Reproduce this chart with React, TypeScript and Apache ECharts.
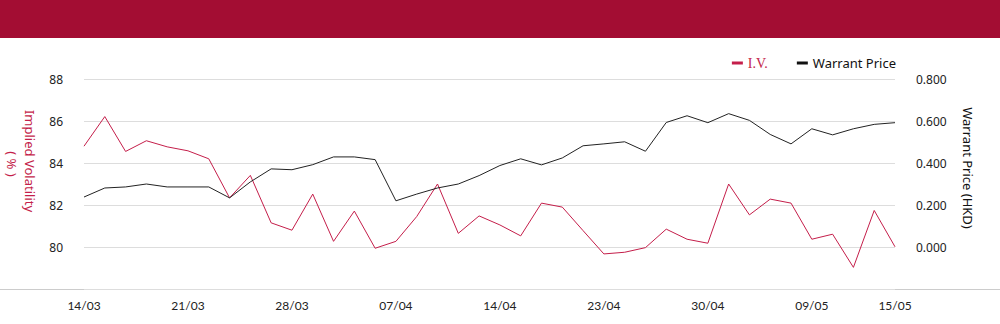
import React, { useEffect, useRef } from "react";
import * as echarts from "echarts";

const dates = [
  "14/03", "17/03", "18/03", "19/03", "20/03", "21/03", "24/03", "25/03", "26/03", "27/03",
  "28/03", "31/03", "01/04", "02/04", "03/04", "07/04", "08/04", "09/04", "10/04", "11/04",
  "14/04", "15/04", "16/04", "17/04", "22/04", "23/04", "24/04", "25/04", "28/04", "29/04",
  "30/04", "02/05", "06/05", "07/05", "08/05", "09/05", "12/05", "13/05", "14/05", "15/05",
];

const ivValues = [
  84.8, 86.21, 84.55, 85.06, 84.77, 84.58, 84.2, 82.34, 83.41, 81.15,
  80.8, 82.52, 80.27, 81.71, 79.94, 80.27, 81.45, 83.0, 80.65, 81.48,
  81.05, 80.53, 82.09, 81.9, 80.78, 79.67, 79.75, 79.97, 80.85, 80.37,
  80.18, 83.0, 81.53, 82.28, 82.09, 80.37, 80.61, 79.03, 81.74, 80.01,
];

const priceValues = [
  0.238, 0.281, 0.286, 0.3, 0.286, 0.286, 0.286, 0.234, 0.31, 0.372,
  0.368, 0.392, 0.429, 0.429, 0.416, 0.22, 0.252, 0.281, 0.3, 0.34,
  0.388, 0.42, 0.391, 0.424, 0.482, 0.491, 0.501, 0.456, 0.593, 0.625,
  0.592, 0.635, 0.603, 0.536, 0.491, 0.563, 0.534, 0.563, 0.584, 0.592,
];

const RED = "#C41E4A";
const HEADER = "#A30D33";
const FONT = "'Noto Sans', 'Open Sans', sans-serif";

export default function App() {
  const ref = useRef<HTMLDivElement>(null);
  useEffect(() => {
    document.body.style.margin = "0";
    const chart = echarts.init(ref.current!, null, { renderer: "svg" });
    chart.setOption({
      animation: false,
      backgroundColor: "#fff",
      textStyle: { fontFamily: FONT },
      grid: { left: 84, right: 105, top: 79, bottom: 35 },
      legend: {
        right: 99,
        top: 51,
        itemWidth: 11,
        itemHeight: 3,
        itemGap: 29,
        icon: "rect",
        textStyle: { fontSize: 13, color: "#111", fontFamily: FONT },
        data: [
          { name: "I.V.", textStyle: { color: RED, fontSize: 14, fontFamily: "'Liberation Serif', serif" } },
          { name: "Warrant Price" },
        ],
      },
      graphic: [
        { type: "rect", left: 0, top: 0, shape: { x: 0, y: 0, width: 1000, height: 38 }, style: { fill: HEADER } },
        { type: "line", shape: { x1: 0, y1: 289.5, x2: 1000, y2: 289.5 }, style: { stroke: "#cccccc", lineWidth: 1 } },
        {
          type: "text", x: 30, y: 161, rotation: -Math.PI / 2,
          style: { text: "Implied Volatility", fill: RED, font: `13px ${FONT}`, textAlign: "center", textVerticalAlign: "middle" },
        },
        {
          type: "text", x: 12, y: 164, rotation: -Math.PI / 2,
          style: { text: "( % )", fill: RED, font: `13px ${FONT}`, textAlign: "center", textVerticalAlign: "middle" },
        },
        {
          type: "text", x: 968, y: 168, rotation: -Math.PI / 2,
          style: { text: "Warrant Price (HKD)", fill: "#111", font: `13px ${FONT}`, textAlign: "center", textVerticalAlign: "middle" },
        },
      ],
      xAxis: {
        type: "category",
        data: dates,
        boundaryGap: false,
        axisLine: { show: false },
        axisTick: { show: false },
        axisLabel: {
          interval: (i: number) => i % 5 === 0 || i === dates.length - 1,
          margin: 10,
          fontSize: 12,
          color: "#222",
          fontFamily: "Lato, sans-serif",
        },
      },
      yAxis: [
        {
          type: "value",
          min: 78,
          max: 88,
          interval: 2,
          axisLine: { show: false },
          axisTick: { show: false },
          splitLine: { lineStyle: { color: "#dddddd" } },
          axisLabel: {
            margin: 21,
            fontSize: 12,
            color: "#222",
            formatter: (v: number) => (v < 79 ? "" : String(v)),
          },
        },
        {
          type: "value",
          min: -0.2,
          max: 0.8,
          interval: 0.2,
          axisLine: { show: false },
          axisTick: { show: false },
          splitLine: { show: false },
          axisLabel: {
            margin: 21,
            fontSize: 12,
            color: "#222",
            formatter: (v: number) => (v < -0.1 ? "" : v.toFixed(3)),
          },
        },
      ],
      series: [
        {
          name: "I.V.",
          type: "line",
          data: ivValues,
          yAxisIndex: 0,
          showSymbol: false,
          color: RED,
          lineStyle: { width: 1, color: RED },
        },
        {
          name: "Warrant Price",
          type: "line",
          data: priceValues,
          yAxisIndex: 1,
          showSymbol: false,
          color: "#111",
          lineStyle: { width: 1, color: "#222" },
        },
      ],
    });
    return () => chart.dispose();
  }, []);
  return <div ref={ref} style={{ width: 1000, height: 324 }} />;
}
